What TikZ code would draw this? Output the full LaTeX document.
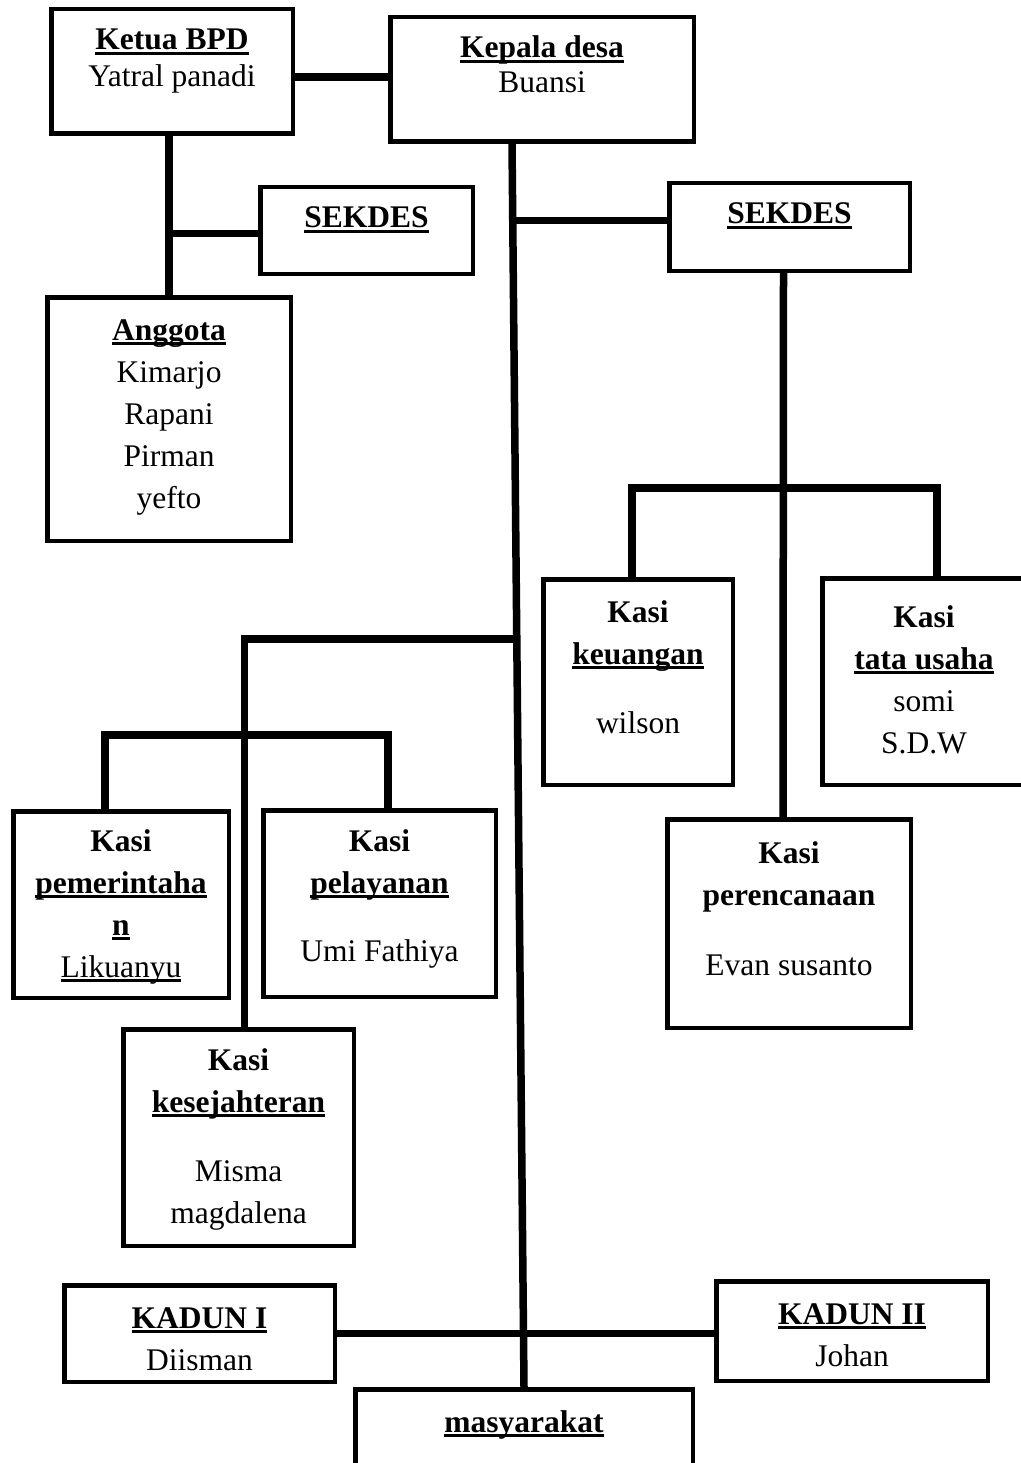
\documentclass[tikz,border=0pt]{standalone}
\usepackage{fontspec}
\setmainfont{Liberation Serif}
\newcommand\ulin[1]{\setbox0\hbox{#1}\rlap{\vrule height -2pt depth 5pt width \wd0}\box0}
\begin{document}
\begin{tikzpicture}[x=1pt,y=-1pt,
    box/.style={draw,line width=4.5pt,fill=white,inner sep=0pt},
    lbl/.style={align=center,anchor=base,inner sep=0pt,font=\fontsize{31.5pt}{42pt}\selectfont},
    link/.style={line width=7.5pt}]
  \useasboundingbox (0,0) rectangle (1020,1463);

  % boxes
  \node[box,minimum width=241.5pt,minimum height=124.5pt] (bpd) at (172,71.5) {};
  \node[box,minimum width=303.5pt,minimum height=124.5pt] (kades) at (542,79.5) {};
  \node[box,minimum width=212.5pt,minimum height=86.5pt] (sekdes1) at (366.5,230.5) {};
  \node[box,minimum width=243.5pt,minimum height=243.5pt] (anggota) at (169,419) {};
  \node[box,minimum width=240.5pt,minimum height=87.5pt] (sekdes2) at (789.5,227) {};
  \node[box,minimum width=189.5pt,minimum height=205.5pt] (keu) at (638,682) {};
  \node[box,minimum width=203.5pt,minimum height=206.5pt] (tata) at (924,681.5) {};
  \node[box,minimum width=243.5pt,minimum height=208.5pt] (perenc) at (789,923.5) {};
  \node[box,minimum width=215.5pt,minimum height=186.5pt] (pem) at (121,904.5) {};
  \node[box,minimum width=232.5pt,minimum height=186.5pt] (pel) at (379.5,903.5) {};
  \node[box,minimum width=230.5pt,minimum height=216.5pt] (kesej) at (238.5,1137.5) {};
  \node[box,minimum width=270.5pt,minimum height=96.5pt] (kad1) at (199.5,1333.5) {};
  \node[box,minimum width=271.5pt,minimum height=99.5pt] (kad2) at (852,1331) {};
  \node[box,minimum width=337.5pt,minimum height=115.5pt] (masy) at (524,1447) {};

  % texts (placed at the baseline of their last line)
  \node[lbl] (bpd-t) at (172,87) {\textbf{\ulin{Ketua BPD}}\\[-5pt]Yatral panadi};
  \node[lbl] (kades-t) at (542,93) {\textbf{\ulin{Kepala desa}}\\[-7pt]Buansi};
  \node[lbl] (sekdes1-t) at (366.5,228) {\textbf{\ulin{SEKDES}}};
  \node[lbl] (anggota-t) at (169,508) {\textbf{\ulin{Anggota}}\\Kimarjo\\Rapani\\Pirman\\yefto};
  \node[lbl] (sekdes2-t) at (789.5,224) {\textbf{\ulin{SEKDES}}};
  \node[lbl] (keu-t) at (638,733) {\textbf{Kasi}\\\textbf{\ulin{keuangan}}\\[27pt]wilson};
  \node[lbl] (tata-t) at (924,753) {\textbf{Kasi}\\\textbf{\ulin{tata usaha}}\\somi\\S.D.W};
  \node[lbl] (perenc-t) at (789,975) {\textbf{Kasi}\\\textbf{perencanaan}\\[28pt]Evan susanto};
  \node[lbl] (pem-t) at (121,977) {\textbf{Kasi}\\\textbf{\ulin{pemerintaha}}\\\textbf{\ulin{n}}\\\ulin{Likuanyu}};
  \node[lbl] (pel-t) at (379.5,961) {\textbf{Kasi}\\\textbf{\ulin{pelayanan}}\\[26pt]Umi Fathiya};
  \node[lbl] (kesej-t) at (238.5,1223) {\textbf{Kasi}\\\textbf{\ulin{kesejahteran}}\\[27pt]Misma\\magdalena};
  \node[lbl] (kad1-t) at (199.5,1370) {\textbf{\ulin{KADUN I}}\\Diisman};
  \node[lbl] (kad2-t) at (852,1366) {\textbf{\ulin{KADUN II}}\\Johan};
  \node[lbl] (masy-t) at (524,1432) {\textbf{\ulin{masyarakat}}};

  % junctions
  \coordinate (top) at ([xshift=-30pt]kades.south);
  \coordinate (jr) at (783,488);
  \coordinate (jl) at (517,639);
  \coordinate (jm) at (244.5,735);

  % lines
  \draw[link] ([yshift=-5.5pt]bpd.east) -- ([yshift=-5.5pt]bpd.east -| kades.west);
  \draw[link] (anggota.north |- bpd.south) -- (anggota.north);
  \draw[link] ([yshift=-3pt]sekdes1.west) -- ([yshift=-3pt]sekdes1.west -| anggota.north);
  \draw[link] (top) -- (masy.north);
  \draw[link] ([yshift=6.5pt]sekdes2.west) -- ([yshift=6.5pt]sekdes2.west -| top);
  \draw[link] ([xshift=-6pt]sekdes2.south) -- ([xshift=-6pt]perenc.north);
  \draw[link] ([xshift=-6pt]keu.north) |- (jr) -| ([xshift=13pt]tata.north);
  \draw[link] (jl) -| ([xshift=6pt]kesej.north);
  \draw[link] ([xshift=-16pt]pem.north) |- (jm) -| ([xshift=8.5pt]pel.north);
  \draw[link] (kad1.east) -- (kad1.east -| kad2.west);
\end{tikzpicture}
\end{document}
